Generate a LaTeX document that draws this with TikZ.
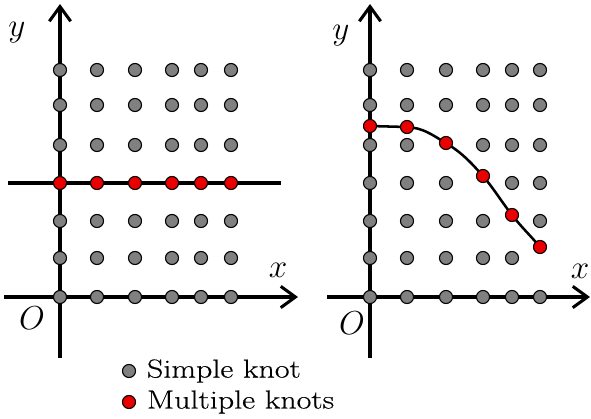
\documentclass[tikz,border=0pt]{standalone}
\usepackage{fontspec}
\usepackage{xcolor}
\usepackage{tikz}
\usetikzlibrary{arrows.meta,positioning,backgrounds}
\definecolor{knotgray}{RGB}{128,128,128}
\definecolor{knotred}{RGB}{235,0,0}
\newfontfamily\legendfont{Latin Modern Roman}[FakeStretch=1.23,FakeBold=0.4]

\begin{document}
\begin{tikzpicture}[x=0.75pt,y=0.75pt,
  axis/.style={line width=2.3pt,-{Straight Barb[length=11pt,width=16pt]}},
  knotline/.style={line width=1.9pt},
  knot/.style={circle,draw,line width=0.8pt,fill=knotgray,minimum size=9.8pt,inner sep=0pt},
  mknot/.style={knot,fill=knotred},
  lab/.style={font=\fontsize{23}{27}\selectfont},
  leg/.style={anchor=west,inner sep=0pt,font=\legendfont\fontsize{19.5}{23}\selectfont}]
\useasboundingbox (0,0) rectangle (591,-418);

% --- straight line of multiple knots (left) ---
\foreach \i/\x in {1/60,2/97,3/135,4/172,5/201,6/231} {
    \foreach \j/\y in {1/70,2/105,3/145,5/221,6/258,7/297}
        \node[knot] (a-\i-\j) at (\x,-\y) {};
    \node[mknot] (a-\i-4) at (\x,-183) {};
}
\coordinate (a-ybot) at (60,-358);
\coordinate (a-ytop) at (60,-4);
\coordinate (a-xl) at (4,-297);
\coordinate (a-xr) at (298,-297);
\coordinate (a-hl) at (8,-183);
\coordinate (a-hr) at (281,-183);
\node[lab] (a-y) at (17,-33) {$y$};
\node[lab] (a-x) at (278,-270) {$x$};
\node[lab] (a-o) at (32,-318) {$O$};
\begin{scope}[on background layer]
\draw[axis] (a-ybot) -- (a-ytop);
\draw[axis] (a-xl) -- (a-xr);
\draw[knotline,line width=2.3pt] (a-hl) -- (a-hr);
\end{scope}

% --- curve of multiple knots (right) ---
\foreach \i/\x in {1/370,2/407,3/446,4/483,5/512,6/540} {
    \foreach \j/\y in {1/70,2/105,3/145,4/183,5/221,6/258,7/297} {
        \pgfmathtruncatemacro\hideknot{and(\i==\j,\i>2)}
        \ifnum\hideknot=0
            \node[knot] (b-\i-\j) at (\x,-\y) {};
        \fi
    }
}
% red knots on the curve
\foreach \i/\x/\y in {1/370/126,2/407/127,3/446/143,4/483/176,5/512/215,6/540/247}
    \node[mknot] (b-r\i) at (\x,-\y) {};
\coordinate (b-ybot) at (370,-358);
\coordinate (b-ytop) at (370,-4);
\coordinate (b-xl) at (327,-297);
\coordinate (b-xr) at (590,-297);
\node[lab] (b-y) at (341,-36) {$y$};
\node[lab] (b-x) at (580,-271) {$x$};
\node[lab] (b-o) at (352,-323) {$O$};
\begin{scope}[on background layer]
\draw[axis] (b-ybot) -- (b-ytop);
\draw[axis] (b-xl) -- (b-xr);
\draw[knotline] (b-r1.center) -- (b-r2.center)
    to[out=-3,in=150] (b-r3.center)
    to[out=-32,in=132] (b-r4.center)
    to[out=-50,in=128] (b-r5.center)
    to[out=-52,in=130] (b-r6.center);
\end{scope}

% --- legend ---
\node[knot] (k-simple) at (129,-371) {};
\node[leg,right=8pt of k-simple] (t-simple) {Simple knot};
\node[mknot] (k-multi) at (129,-402) {};
\node[leg,right=8pt of k-multi] (t-multi) {Multiple knots};
\end{tikzpicture}
\end{document}
